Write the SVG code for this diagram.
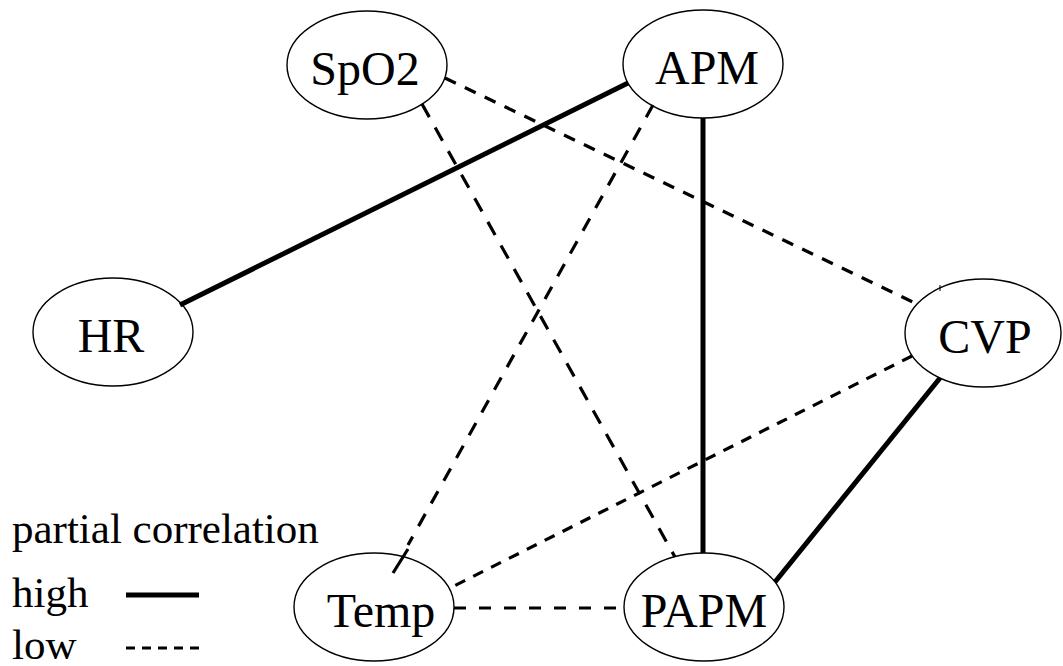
<svg xmlns="http://www.w3.org/2000/svg" width="1063" height="666" viewBox="0 0 1063 666">
<style>
  .node ellipse { fill: #ffffff; stroke: #000000; stroke-width: 1.4; }
  .node text { font-family: "Liberation Serif", "Times New Roman", serif; font-size: 48px; fill: #000000; text-anchor: middle; }
  .legend text { font-family: "Liberation Serif", "Times New Roman", serif; font-size: 43px; fill: #000000; }
  .high { stroke: #000000; stroke-width: 5; fill: none; }
  .low { stroke: #000000; stroke-width: 3.2; fill: none; }
</style>
<rect width="1063" height="666" fill="#ffffff"/>
<g id="node-spo2" class="node"><ellipse cx="367" cy="65" rx="80" ry="54"/><text x="365" y="85">SpO2</text></g>
<g id="node-apm" class="node"><ellipse cx="703" cy="64" rx="80" ry="54"/><text x="707" y="84">APM</text></g>
<g id="node-hr" class="node"><ellipse cx="113" cy="332" rx="80" ry="54"/><text x="111" y="352">HR</text></g>
<g id="node-cvp" class="node"><ellipse cx="983" cy="333" rx="78" ry="54"/><text x="985" y="353">CVP</text></g>
<g id="node-temp" class="node"><ellipse cx="374" cy="607" rx="80" ry="54"/><text x="381" y="627">Temp</text></g>
<g id="node-papm" class="node"><ellipse cx="704" cy="607" rx="80" ry="54"/><text x="704" y="627">PAPM</text></g>
<g id="connectors">
  <line class="high" x1="180" y1="305" x2="628" y2="83"/>
  <line class="high" x1="703" y1="118" x2="703" y2="553"/>
  <line class="high" x1="940" y1="378" x2="775" y2="582"/>
  <line class="low" x1="445" y1="78" x2="917" y2="304" stroke-width="2.8" stroke-dasharray="12 10"/>
  <line class="low" x1="422" y1="104" x2="675" y2="557" stroke-dasharray="15 12"/>
  <line class="low" x1="653" y1="105" x2="408" y2="545" stroke-dasharray="14 12"/>
  <line class="low" x1="408" y1="549" x2="393" y2="573" stroke-width="2.5"/>
  <line class="low" x1="912" y1="356" x2="450" y2="588" stroke-dasharray="11 9"/>
  <line class="low" x1="454" y1="608" x2="624" y2="608" stroke-dasharray="12 13"/>
  <line x1="940" y1="285" x2="940" y2="291" stroke="#000000" stroke-width="1"/>
</g>
<g id="legend" class="legend">
  <text x="12" y="543">partial correlation</text>
  <text x="12" y="607">high</text>
  <text x="12" y="659">low</text>
  <line class="high" x1="126" y1="595" x2="199" y2="595"/>
  <line class="low" x1="126" y1="648" x2="199" y2="648" stroke-dasharray="9 7"/>
</g>
</svg>
